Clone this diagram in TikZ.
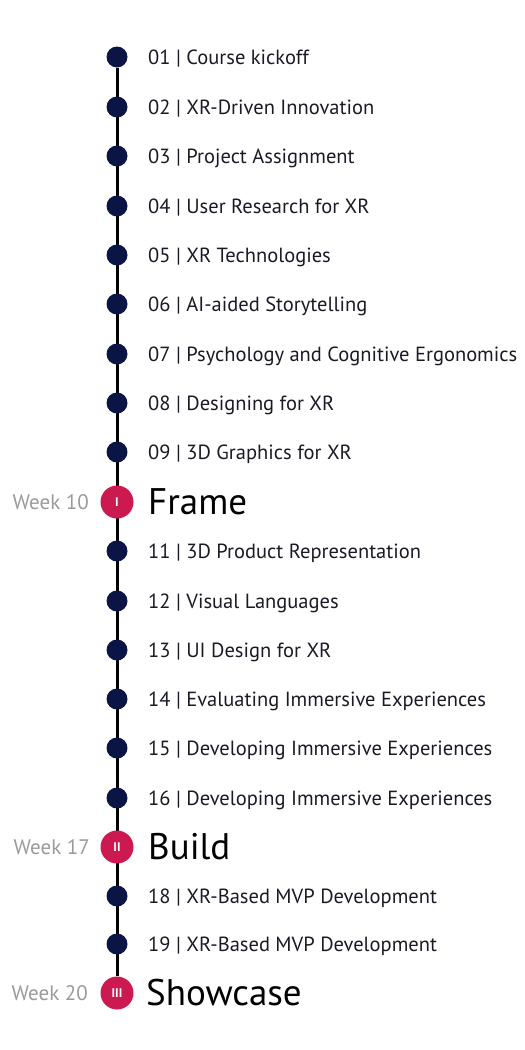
\documentclass[tikz,border=0pt]{standalone}
\usepackage{fontspec}
\setmainfont{PT Sans}
\usetikzlibrary{positioning,backgrounds}
\definecolor{navy}{HTML}{0B1545}
\definecolor{crimson}{HTML}{CC1A50}
\definecolor{ink}{HTML}{1A1A26}
\definecolor{weekgray}{HTML}{9A9A9A}
\tikzset{
  lecture/.style={circle, fill=navy, minimum size=21pt, inner sep=0pt},
  milestone/.style={circle, fill=crimson, minimum size=33pt, inner sep=0pt, text=white, font=\bfseries\fontsize{12.5}{12.5}\selectfont},
  topic/.style={inner sep=0pt, text=ink, font=\fontsize{20.5}{20.5}\selectfont, text height=14.3pt, text depth=0pt},
  stage/.style={inner sep=0pt, text=black, font=\fontsize{37}{37}\selectfont, text height=25.9pt, text depth=0pt},
  weeklabel/.style={inner sep=0pt, text=weekgray, font=\fontsize{21}{21}\selectfont, text height=14.7pt, text depth=0pt},
  spine/.style={line width=3pt, black},
}
\begin{document}
\begin{tikzpicture}[x=1pt, y=-1pt]
  \useasboundingbox (0,0) rectangle (525,1050);
  % lectures before the first milestone
  \node[lecture] (l01) at (117,57) {};
  \node[lecture] (l02) at (117,107) {};
  \node[lecture] (l03) at (117,156) {};
  \node[lecture] (l04) at (117,206) {};
  \node[lecture] (l05) at (117,255) {};
  \node[lecture] (l06) at (117,304) {};
  \node[lecture] (l07) at (117,354) {};
  \node[lecture] (l08) at (117,403) {};
  \node[lecture] (l09) at (117,452) {};
  \node[milestone] (m10) at (117,502) {I};
  \node[lecture] (l11) at (117,551) {};
  \node[lecture] (l12) at (117,601) {};
  \node[lecture] (l13) at (117,650) {};
  \node[lecture] (l14) at (117,699) {};
  \node[lecture] (l15) at (117,748) {};
  \node[lecture] (l16) at (117,798) {};
  \node[milestone] (m17) at (117,847) {II};
  \node[lecture] (l18) at (117,896) {};
  \node[lecture] (l19) at (117,944) {};
  \node[milestone] (m20) at (117,993) {III};
  % topics
  \node[topic, right=31pt of l01.center] (t01) {01 | Course kickoff};
  \node[topic, right=31pt of l02.center] (t02) {02 | XR-Driven Innovation};
  \node[topic, right=31pt of l03.center] (t03) {03 | Project Assignment};
  \node[topic, right=31pt of l04.center] (t04) {04 | User Research for XR};
  \node[topic, right=31pt of l05.center] (t05) {05 | XR Technologies};
  \node[topic, right=31pt of l06.center] (t06) {06 | AI-aided Storytelling};
  \node[topic, right=31pt of l07.center] (t07) {07 | Psychology and Cognitive Ergonomics};
  \node[topic, right=31pt of l08.center] (t08) {08 | Designing for XR};
  \node[topic, right=31pt of l09.center] (t09) {09 | 3D Graphics for XR};
  \node[topic, right=31pt of l11.center] (t11) {11 | 3D Product Representation};
  \node[topic, right=31pt of l12.center] (t12) {12 | Visual Languages};
  \node[topic, right=31pt of l13.center] (t13) {13 | UI Design for XR};
  \node[topic, right=31pt of l14.center] (t14) {14 | Evaluating Immersive Experiences};
  \node[topic, right=31pt of l15.center] (t15) {15 | Developing Immersive Experiences};
  \node[topic, right=31pt of l16.center] (t16) {16 | Developing Immersive Experiences};
  \node[topic, right=31pt of l18.center] (t18) {18 | XR-Based MVP Development};
  \node[topic, right=31pt of l19.center] (t19) {19 | XR-Based MVP Development};
  % milestones
  \node[stage, right=31pt of m10.center] (s10) {Frame};
  \node[stage, right=31pt of m17.center] (s17) {Build};
  \node[stage, right=29pt of m20.center] (s20) {Showcase};
  \node[weeklabel, left=28pt of m10.center] (w10) {Week 10};
  \node[weeklabel, left=27pt of m17.center] (w17) {Week 17};
  \node[weeklabel, left=29pt of m20.center] (w20) {Week 20};
  \begin{scope}[on background layer]
    \draw[spine] (l01) -- (m20);
  \end{scope}
\end{tikzpicture}
\end{document}
